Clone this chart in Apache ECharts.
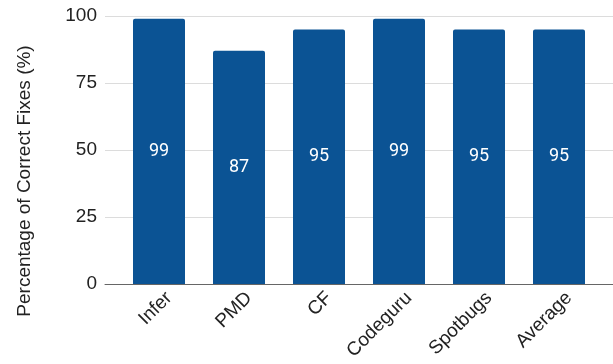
<!DOCTYPE html>
<html>
<head>
<meta charset="utf-8">
<script src="https://cdn.jsdelivr.net/npm/echarts@6/dist/echarts.min.js"></script>
<style>html,body{margin:0;padding:0;background:#fff}#c{width:613px;height:364px}</style>
</head>
<body>
<div id="c"></div>
<script>
var categories = ["Infer", "PMD", "CF", "Codeguru", "Spotbugs", "Average"];
var values = [99, 87, 95, 99, 95, 95];
var yTicks = [0, 25, 50, 75, 100];
var yTitle = "Percentage of Correct Fixes (%)";

var chart = echarts.init(document.getElementById('c'), null, {renderer: 'canvas'});
var font = 'Liberation Sans, Arial, sans-serif';
chart.setOption({
  animation: false,
  grid: [
    {left: 105, right: 0, top: 16, bottom: 80},
    {left: 119, right: 14, top: 16, bottom: 80},
    {left: 129, right: 4, top: 16, bottom: 80}
  ],
  xAxis: [
    {gridIndex: 0, type: 'value', min: 0, max: 1,
     axisLine: {show: true, lineStyle: {color: '#666', width: 1}},
     axisTick: {show: false}, axisLabel: {show: false}, splitLine: {show: false}},
    {gridIndex: 1, type: 'category', data: categories,
     axisLine: {show: false}, axisTick: {show: false}, axisLabel: {show: false}},
    {gridIndex: 2, type: 'category', data: categories,
     axisLine: {show: false}, axisTick: {show: false},
     axisLabel: {interval: 0, rotate: 45, margin: 11, fontSize: 19, color: '#222', fontFamily: font}}
  ],
  yAxis: [
    {gridIndex: 0, type: 'value', min: yTicks[0], max: yTicks[yTicks.length-1], interval: 25,
     axisLine: {show: false}, axisTick: {show: false},
     axisLabel: {fontSize: 19, color: '#222', margin: 8, fontFamily: font},
     splitLine: {lineStyle: {color: '#dcdcdc', width: 1}}},
    {gridIndex: 1, type: 'value', min: 0, max: 100, show: false},
    {gridIndex: 2, type: 'value', min: 0, max: 100, show: false}
  ],
  graphic: [{
    type: 'text', x: 25, y: 181, rotation: Math.PI/2,
    style: {text: yTitle, font: '19px ' + font, fill: '#222', align: 'center', verticalAlign: 'middle'}
  }],
  series: [{
    type: 'bar', xAxisIndex: 1, yAxisIndex: 1, data: values, barWidth: 52,
    itemStyle: {color: '#0b5394', borderRadius: [2, 2, 0, 0]},
    label: {show: true, position: 'inside', color: '#fff', fontSize: 18, fontFamily: 'Roboto, sans-serif'}
  }]
});
</script>
</body>
</html>
